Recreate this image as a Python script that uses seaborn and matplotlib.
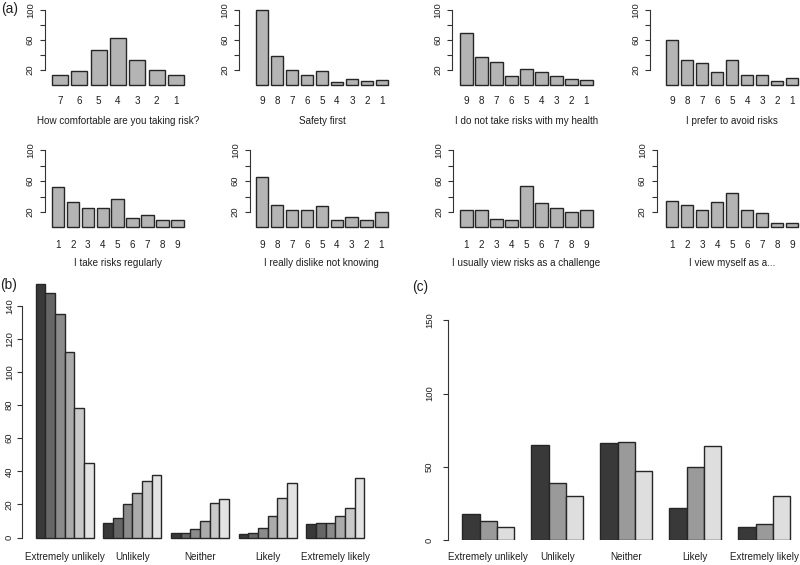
import numpy as np
import pandas as pd
import matplotlib
matplotlib.use("Agg")
import matplotlib.pyplot as plt
import seaborn as sns

# ---------------- data ----------------
titles_a = [
    "How comfortable are you taking risk?",
    "Safety first",
    "I do not take risks with my health",
    "I prefer to avoid risks",
    "I take risks regularly",
    "I really dislike not knowing",
    "I usually view risks as a challenge",
    "I view myself as a...",
]
labels_a = [
    ["7", "6", "5", "4", "3", "2", "1"],
    ["9", "8", "7", "6", "5", "4", "3", "2", "1"],
    ["9", "8", "7", "6", "5", "4", "3", "2", "1"],
    ["9", "8", "7", "6", "5", "4", "3", "2", "1"],
    ["1", "2", "3", "4", "5", "6", "7", "8", "9"],
    ["9", "8", "7", "6", "5", "4", "3", "2", "1"],
    ["1", "2", "3", "4", "5", "6", "7", "8", "9"],
    ["1", "2", "3", "4", "5", "6", "7", "8", "9"],
]
comfortable = [14, 19, 47, 63, 34, 20, 14]
safety_first = [100, 39, 20, 13, 19, 4, 8, 6, 7]
health = [69, 38, 31, 12, 21, 18, 12, 8, 7]
avoid_risks = [60, 34, 30, 18, 33, 14, 13, 6, 9]
take_regularly = [52, 33, 25, 25, 37, 12, 16, 10, 9]
dislike_not_knowing = [65, 29, 23, 23, 28, 9, 14, 9, 20]
challenge = [22, 23, 11, 9, 54, 32, 25, 20, 22]
view_myself = [34, 29, 22, 33, 45, 23, 19, 6, 6]
values_a = [comfortable, safety_first, health, avoid_risks,
            take_regularly, dislike_not_knowing, challenge, view_myself]

likelihood = ["Extremely unlikely", "Unlikely", "Neither", "Likely", "Extremely likely"]

b_groups = ["g1", "g2", "g3", "g4", "g5", "g6"]
b_values = [
    [153, 148, 135, 112, 78, 45],   # Extremely unlikely
    [9, 12, 20, 27, 34, 38],        # Unlikely
    [3, 3, 5, 10, 21, 23],          # Neither
    [2, 3, 6, 13, 24, 33],          # Likely
    [8, 9, 9, 13, 18, 36],          # Extremely likely
]
b_colors = ["#393939", "#666666", "#8b8b8b", "#ababab", "#c9c9c9", "#e3e3e3"]

c_groups = ["h1", "h2", "h3"]
c_values = [
    [18, 13, 9],
    [65, 39, 30],
    [66, 67, 47],
    [22, 50, 64],
    [9, 11, 30],
]
c_colors = ["#393939", "#9a9a9a", "#dedede"]

# ---------------- style ----------------
sns.set_style("white")
plt.rcParams["font.family"] = ["Liberation Sans", "DejaVu Sans"]

W, H = 800, 565
fig = plt.figure(figsize=(W / 100, H / 100), dpi=100)

def px_axes(left, top, right, bottom):
    return fig.add_axes([left / W, 1 - bottom / H, (right - left) / W, (bottom - top) / H])

EDGE = "#262626"
SPINE = "#333333"
TXT = "#1e1e1e"
FS = 7.1
YFS = 6.8

def style_left_axis(ax, ticks, labels, lo, hi, pad):
    for s in ["top", "right", "bottom"]:
        ax.spines[s].set_visible(False)
    ax.spines["left"].set_bounds(lo, hi)
    ax.spines["left"].set_color(SPINE)
    ax.spines["left"].set_linewidth(0.8)
    ax.set_yticks(ticks)
    ax.set_yticklabels(labels, rotation=90, va="center", fontsize=YFS, color=TXT)
    ax.tick_params(axis="y", left=True, length=3.6, width=0.8, color=SPINE, pad=pad)
    ax.set_xlabel("")
    ax.set_ylabel("")
    ax.grid(False)

# ---------------- panel (a) ----------------
# (axis x, bars left, bars right) in pixels for each small panel
a_layout = [
    (44.5, 52, 184), (239, 256, 388), (452.3, 460, 592.7), (650, 666, 798.3),
    (44.5, 51.7, 183.7), (249.5, 256, 387.7), (453, 460, 592.7), (656.5, 666, 798.3),
]
rows = [(10, 85, 15.5, 121), (150.3, 227.3, 17.5, 263)]
w = 0.833
for i, (title, labs, vals) in enumerate(zip(titles_a, labels_a, values_a)):
    A, B, C = a_layout[i]
    top, bot, lab_off, title_y = rows[i // 4]
    n = len(vals)
    p = (C - B) / (n - 1 + w)
    right_px = min(C + 6, 799.5)
    ax = px_axes(A, top, right_px, bot)
    df = pd.DataFrame({"k": labs, "v": vals})
    sns.barplot(data=df, x="k", y="v", order=labs, color="#b4b4b4", saturation=1,
                width=w, edgecolor=EDGE, linewidth=1.0, ax=ax)
    for patch in ax.patches:
        patch.set_clip_on(False)
    ax.set_xlim(-w / 2 - (B - A) / p, n - 1 + w / 2 + (right_px - C) / p)
    ax.set_ylim(0, 100)
    style_left_axis(ax, [20, 40, 60, 80, 100], ["20", "", "60", "", "100"], 20, 100, 3.3)
    ax.tick_params(axis="x", bottom=False, length=0, pad=lab_off * 0.72 - 3.4, labelsize=FS,
                   labelcolor=TXT)
    fig.text((B + C) / 2 / W, 1 - title_y / H, title, ha="center", va="center",
             fontsize=FS, color=TXT)

fig.text(9.5 / W, 1 - 9.5 / H, "(a)", ha="center", va="center", fontsize=9.8, color=TXT)

# ---------------- panel (b) ----------------
b_df = pd.DataFrame(
    [(cat, g, v) for cat, row in zip(likelihood, b_values) for g, v in zip(b_groups, row)],
    columns=["cat", "grp", "val"],
)
b_base, b_scale = 537.5, 1.655
b_top_val = 158
axb = px_axes(22, b_base - b_top_val * b_scale, 392, b_base)
sns.barplot(data=b_df, x="cat", y="val", hue="grp", order=likelihood, hue_order=b_groups,
            palette=b_colors, saturation=1, width=6 / 7, gap=0, dodge=True,
            edgecolor=EDGE, linewidth=1.0, legend=False, ax=axb)
for patch in axb.patches:
    patch.set_clip_on(False)
pitch_b = 67.6
axb.set_xlim(-(64.7 - 22) / pitch_b, 4 + (392 - 335.2) / pitch_b)
axb.set_ylim(0, b_top_val)
style_left_axis(axb, list(range(0, 141, 20)), [str(t) for t in range(0, 141, 20)], 0, 140, 2.3)
axb.tick_params(axis="x", bottom=False, length=0, pad=10.8, labelsize=FS, labelcolor=TXT)
fig.text(9 / W, 1 - 284.5 / H, "(b)", ha="center", va="center", fontsize=9.8, color=TXT)

# ---------------- panel (c) ----------------
c_df = pd.DataFrame(
    [(cat, g, v) for cat, row in zip(likelihood, c_values) for g, v in zip(c_groups, row)],
    columns=["cat", "grp", "val"],
)
c_base, c_scale = 540, 1.4645
c_top_val = 152
axc = px_axes(448.3, c_base - c_top_val * c_scale, 797, c_base)
sns.barplot(data=c_df, x="cat", y="val", hue="grp", order=likelihood, hue_order=c_groups,
            palette=c_colors, saturation=1, width=0.75, gap=0, dodge=True,
            edgecolor=EDGE, linewidth=1.0, legend=False, ax=axc)
pitch_c = 69.0
axc.set_xlim(-(488.3 - 448.3) / pitch_c, 4 + (797 - 764.3) / pitch_c)
axc.set_ylim(0, c_top_val)
style_left_axis(axc, [0, 50, 100, 150], ["0", "50", "100", "150"], 0, 150, 6.8)
axc.tick_params(axis="x", bottom=False, length=0, pad=8.3, labelsize=FS, labelcolor=TXT)
fig.text(420.5 / W, 1 - 286.5 / H, "(c)", ha="center", va="center", fontsize=9.8, color=TXT)

fig.savefig("out.png", dpi=100, facecolor="white")
